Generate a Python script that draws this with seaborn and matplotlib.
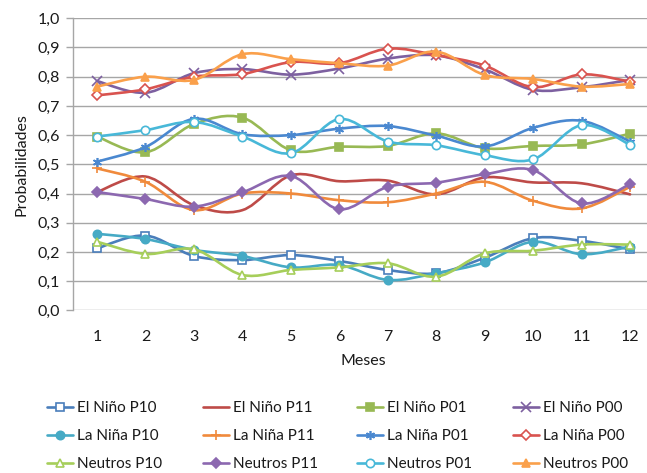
import numpy as np
import pandas as pd
import matplotlib
matplotlib.use("Agg")
import matplotlib.pyplot as plt
from matplotlib.path import Path
from matplotlib.patches import PathPatch
from matplotlib.lines import Line2D
import seaborn as sns

months = list(range(1, 13))

el_nino_p10 = [0.212, 0.256, 0.186, 0.172, 0.189, 0.169, 0.138, 0.127, 0.180, 0.247, 0.238, 0.209]
el_nino_p11 = [0.405, 0.458, 0.360, 0.343, 0.462, 0.442, 0.444, 0.397, 0.455, 0.438, 0.435, 0.397]
el_nino_p01 = [0.595, 0.541, 0.638, 0.660, 0.548, 0.560, 0.563, 0.606, 0.555, 0.563, 0.568, 0.605]
el_nino_p00 = [0.785, 0.745, 0.812, 0.826, 0.807, 0.828, 0.862, 0.873, 0.825, 0.755, 0.764, 0.789]
la_nina_p10 = [0.262, 0.244, 0.207, 0.186, 0.147, 0.155, 0.104, 0.127, 0.164, 0.235, 0.192, 0.218]
la_nina_p11 = [0.486, 0.440, 0.343, 0.400, 0.400, 0.377, 0.370, 0.400, 0.440, 0.375, 0.349, 0.423]
la_nina_p01 = [0.509, 0.559, 0.656, 0.603, 0.600, 0.622, 0.631, 0.598, 0.561, 0.625, 0.649, 0.578]
la_nina_p00 = [0.736, 0.757, 0.800, 0.809, 0.850, 0.846, 0.896, 0.874, 0.838, 0.764, 0.808, 0.783]
neutros_p10 = [0.235, 0.193, 0.209, 0.121, 0.138, 0.147, 0.161, 0.115, 0.195, 0.204, 0.225, 0.225]
neutros_p11 = [0.405, 0.381, 0.355, 0.404, 0.460, 0.346, 0.423, 0.437, 0.466, 0.480, 0.366, 0.432]
neutros_p01 = [0.595, 0.617, 0.645, 0.595, 0.538, 0.655, 0.578, 0.565, 0.531, 0.517, 0.634, 0.567]
neutros_p00 = [0.766, 0.800, 0.789, 0.877, 0.860, 0.846, 0.838, 0.886, 0.806, 0.792, 0.766, 0.775]

series_names = ["El Niño P10", "El Niño P11", "El Niño P01", "El Niño P00",
                "La Niña P10", "La Niña P11", "La Niña P01", "La Niña P00",
                "Neutros P10", "Neutros P11", "Neutros P01", "Neutros P00"]
series_values = [el_nino_p10, el_nino_p11, el_nino_p01, el_nino_p00,
                 la_nina_p10, la_nina_p11, la_nina_p01, la_nina_p00,
                 neutros_p10, neutros_p11, neutros_p01, neutros_p00]

ytick_values = [0.0, 0.1, 0.2, 0.3, 0.4, 0.5, 0.6, 0.7, 0.8, 0.9, 1.0]
ytick_labels = ["0,0", "0,1", "0,2", "0,3", "0,4", "0,5", "0,6", "0,7", "0,8", "0,9", "1,0"]

# styles: color, marker, filled
styles = [
    ("#4A7EBB", "s", False),
    ("#BE4B48", None, True),
    ("#98B954", "s", True),
    ("#7D60A0", "x", True),
    ("#46AAC5", "o", True),
    ("#F08A3C", "+", True),
    ("#4A88D0", (6, 2, 0), True),
    ("#D9534F", "D", False),
    ("#A6CE5A", "^", False),
    ("#8C68B0", "D", True),
    ("#48B8D8", "o", False),
    ("#FAA04B", "^", True),
]

sns.set_theme(style="white")
plt.rcParams["font.family"] = ["Lato", "DejaVu Sans"]

fig = plt.figure(figsize=(6.47, 4.73), dpi=100)
ax = fig.add_axes([72.8 / 647, 1 - 310.3 / 473, 581.5 / 647, 292 / 473])

def smooth_path(xs, ys):
    xs = np.asarray(xs, float)
    ys = np.asarray(ys, float)
    n = len(xs)
    verts = [(xs[0], ys[0])]
    codes = [Path.MOVETO]
    for i in range(n - 1):
        i0 = max(i - 1, 0)
        i3 = min(i + 2, n - 1)
        c1 = (xs[i] + (xs[i + 1] - xs[i0]) / 6.0, ys[i] + (ys[i + 1] - ys[i0]) / 6.0)
        c2 = (xs[i + 1] - (xs[i3] - xs[i]) / 6.0, ys[i + 1] - (ys[i3] - ys[i]) / 6.0)
        verts += [c1, c2, (xs[i + 1], ys[i + 1])]
        codes += [Path.CURVE4] * 3
    return Path(verts, codes)

handles = []
for k, (name, vals, (col, mk, filled)) in enumerate(zip(series_names, series_values, styles)):
    z = 3 + k
    patch = PathPatch(smooth_path(months, vals), facecolor="none", edgecolor=col,
                      lw=1.9, zorder=z, capstyle="round", joinstyle="round")
    ax.add_patch(patch)
    ms = 6.5 if mk in ("x", "+", (6, 2, 0)) else 6
    if mk == "D":
        ms = 5.5
    if mk is not None:
        df = pd.DataFrame({"Mes": months, "Prob": vals})
        sns.lineplot(data=df, x="Mes", y="Prob", ax=ax, linestyle="none", marker=mk,
                     markersize=ms, color=col, markeredgecolor=col,
                     markerfacecolor=(col if filled else "white"),
                     markeredgewidth=1.2, zorder=z + 0.5)
    handles.append(Line2D([0], [0], color=col, lw=1.9, marker=mk, markersize=ms,
                          markeredgecolor=col, markerfacecolor=(col if filled else "white"),
                          markeredgewidth=1.2, label=name))

ax.set_xlim(0.5, 12.5)
ax.set_ylim(0, 1.0)
ax.set_xticks(months)
ax.set_xticklabels([str(m) for m in months])
ax.set_yticks(ytick_values)
ax.set_yticklabels(ytick_labels)
ax.yaxis.grid(True, color="#A6A6A6", lw=1.0)
ax.xaxis.grid(False)
for s in ["top", "right", "bottom"]:
    ax.spines[s].set_visible(False)
ax.spines["left"].set_color("#A6A6A6")
ax.spines["left"].set_linewidth(1.0)
ax.tick_params(axis="y", which="major", left=True, length=5, color="#A6A6A6",
               width=1.0, labelsize=11.5, pad=4, labelcolor="#1a1a1a")
ax.tick_params(axis="x", which="major", bottom=False, labelsize=11.5, pad=8,
               labelcolor="#1a1a1a")
ax.set_xlabel("Meses", fontsize=11.5, color="#1a1a1a", labelpad=7.5)
ax.set_ylabel("Probabilidades", fontsize=11.5, color="#1a1a1a", labelpad=7)

col_x = [47, 203, 357, 513]
for c in range(4):
    idx = [c, c + 4, c + 8]
    leg = fig.legend([handles[i] for i in idx], [series_names[i] for i in idx],
                     ncol=1, loc="upper left",
                     bbox_to_anchor=(col_x[c] / 647, 1 - 401 / 473),
                     frameon=False, fontsize=11, handlelength=1.7, handletextpad=0.26,
                     labelspacing=0.93, borderaxespad=0, borderpad=0)
    for t in leg.get_texts():
        t.set_color("#1a1a1a")

fig.savefig("out.png", dpi=100)
